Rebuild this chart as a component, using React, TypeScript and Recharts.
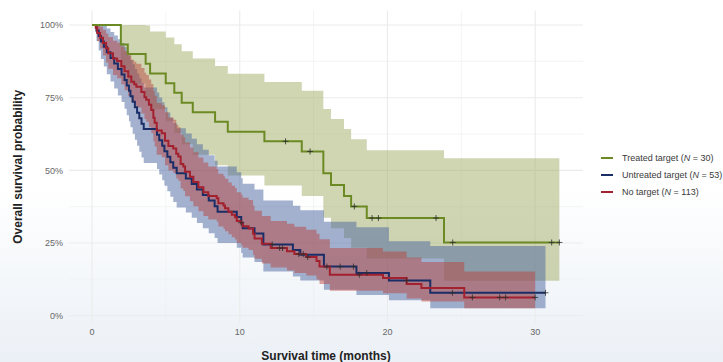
import React from "react";
import { ComposedChart, Area, Line, Scatter, XAxis, YAxis, CartesianGrid, Legend } from "recharts";

// Treated target (N = 30)
const treatedTime = [0, 1.95, 2.42, 3.63, 3.93, 4.99, 5.57, 6.07, 6.82, 8.33, 9.19, 11.67, 14.2, 15.66, 16.18, 17.06, 17.54, 18.6, 23.83, 31.64];
const treatedSurv = [100, 93.3, 90.0, 86.7, 83.3, 80.0, 76.7, 73.3, 70.0, 66.7, 63.3, 60.0, 56.5, 49.0, 45.0, 41.2, 37.6, 33.6, 25.2, 25.2];
const treatedLow = [100, 84.8, 79.9, 75.3, 71.0, 66.9, 62.9, 59.0, 55.4, 51.8, 48.2, 44.8, 41.2, 33.7, 30.1, 26.7, 23.4, 19.7, 12.0, 12.0];
const treatedHigh = [100, 100, 100, 99.8, 97.8, 95.7, 93.4, 91.0, 88.5, 85.9, 83.2, 80.4, 77.4, 71.1, 67.7, 64.2, 60.7, 56.9, 54.2, 54.2];
const treatedCensorTime = [13.1, 14.76, 17.76, 18.96, 19.39, 23.29, 24.42, 31.12, 31.64];
const treatedCensorSurv = [60.0, 56.5, 37.6, 33.6, 33.6, 33.6, 25.2, 25.2, 25.2];

// Untreated target (N = 53)
const untreatedTime = [0, 0.3, 0.45, 0.6, 0.8, 1.0, 1.25, 1.5, 1.75, 2.0, 2.2, 2.35, 2.5, 2.6, 2.75, 2.9, 3.05, 3.2, 3.35, 3.5, 4.4, 4.55, 4.75, 4.9, 5.1, 5.3, 5.5, 5.73, 6.35, 6.75, 7.1, 7.5, 7.9, 8.3, 8.5, 9.8, 10.1, 10.2, 11.0, 11.6, 13.6, 14.1, 15.7, 17.9, 20.1, 22.9, 30.7];
const untreatedSurv = [100, 98.1, 96.2, 94.3, 92.5, 90.6, 88.7, 86.8, 84.9, 83.0, 81.1, 79.2, 77.4, 75.5, 73.6, 71.7, 69.8, 67.9, 66.0, 64.2, 62.3, 60.4, 58.5, 56.6, 54.7, 52.8, 50.9, 49.0, 47.2, 45.3, 43.4, 41.5, 39.6, 37.7, 35.8, 34.0, 32.0, 30.1, 28.3, 24.5, 22.6, 21.0, 16.9, 14.7, 12.1, 7.9, 7.9];
const untreatedLow = [100, 94.5, 91.2, 88.3, 85.7, 83.1, 80.6, 78.2, 75.8, 73.5, 71.2, 69.0, 66.9, 64.8, 62.6, 60.5, 58.5, 56.4, 54.4, 52.5, 50.5, 48.6, 46.6, 44.7, 42.8, 40.9, 39.1, 37.2, 35.5, 33.7, 31.9, 30.1, 28.4, 26.7, 25.0, 23.4, 21.6, 20.0, 18.5, 15.2, 13.5, 12.1, 8.9, 7.1, 5.3, 2.6, 2.6];
const untreatedHigh = [100, 100, 100, 100, 99.9, 98.8, 97.6, 96.4, 95.1, 93.8, 92.4, 91.0, 89.5, 88.0, 86.5, 84.9, 83.3, 81.7, 80.1, 78.5, 76.8, 75.1, 73.4, 71.7, 69.9, 68.1, 66.3, 64.5, 62.7, 60.9, 59.0, 57.1, 55.2, 53.3, 51.3, 49.4, 47.3, 45.4, 43.4, 39.6, 37.8, 36.3, 32.3, 30.4, 25.6, 24.0, 24.0];
const untreatedCensorTime = [10.1, 12.2, 15.9, 16.8, 17.7, 18.6, 21.3, 24.4, 30.7];
const untreatedCensorSurv = [32.0, 24.5, 16.9, 16.9, 16.9, 14.7, 12.1, 7.9, 7.9];

// No target (N = 113)
const noTargetTime = [0, 0.25, 0.35, 0.55, 0.74, 0.95, 1.1, 1.42, 1.7, 1.98, 2.2, 2.45, 2.66, 2.85, 3.0, 3.34, 3.55, 3.67, 3.85, 4.01, 4.15, 4.24, 4.38, 4.72, 4.94, 5.17, 5.5, 5.7, 5.84, 6.0, 6.18, 6.3, 6.63, 6.86, 7.2, 7.54, 7.87, 8.44, 8.55, 8.9, 9.0, 9.23, 9.46, 9.68, 9.8, 10.1, 10.2, 10.6, 10.9, 11.0, 11.5, 12.1, 13.2, 13.7, 14.5, 15.2, 15.4, 16.1, 19.7, 21.3, 22.3, 25.2, 30.0];
const noTargetSurv = [100, 99.1, 97.3, 95.6, 93.8, 92.0, 90.3, 88.5, 87.6, 85.8, 84.1, 82.3, 80.5, 79.6, 78.8, 77.0, 75.2, 74.3, 72.6, 70.8, 68.1, 66.4, 63.7, 62.8, 60.2, 58.4, 57.5, 55.7, 54.8, 52.2, 51.3, 49.5, 47.8, 46.0, 44.2, 42.5, 41.2, 40.4, 38.7, 37.9, 37.0, 35.8, 34.7, 33.9, 32.6, 31.7, 30.8, 30.0, 28.2, 26.6, 24.8, 23.3, 22.2, 21.2, 20.2, 18.8, 16.9, 14.1, 13.0, 10.9, 9.5, 6.3, 6.3];
const noTargetLow = [100, 97.4, 94.4, 91.9, 89.5, 87.1, 85.0, 82.8, 81.7, 79.6, 77.6, 75.6, 73.5, 72.5, 71.6, 69.6, 67.7, 66.7, 64.8, 62.9, 60.0, 58.2, 55.4, 54.5, 51.8, 50.0, 49.1, 47.2, 46.4, 43.8, 42.9, 41.1, 39.4, 37.7, 35.9, 34.3, 33.1, 32.3, 30.7, 29.9, 29.1, 28.0, 27.0, 26.2, 25.0, 24.2, 23.4, 22.6, 21.0, 19.6, 18.0, 16.6, 15.6, 14.7, 13.8, 12.5, 10.9, 8.6, 7.7, 5.9, 4.9, 2.6, 2.6];
const noTargetHigh = [100, 100, 100, 99.4, 98.4, 97.1, 95.9, 94.6, 93.9, 92.5, 91.1, 89.6, 88.1, 87.4, 86.7, 85.2, 83.6, 82.8, 81.3, 79.7, 77.3, 75.7, 73.2, 72.4, 70.0, 68.2, 67.4, 65.7, 64.8, 62.3, 61.4, 59.6, 57.9, 56.2, 54.4, 52.7, 51.3, 50.5, 48.8, 48.0, 47.1, 45.8, 44.7, 43.9, 42.5, 41.6, 40.6, 39.8, 37.8, 36.1, 34.3, 32.6, 31.6, 30.6, 29.6, 28.2, 26.3, 23.3, 22.1, 20.0, 18.5, 15.2, 15.2];
const noTargetCensorTime = [12.7, 12.9, 14.0, 14.3, 14.6, 18.1, 25.75, 27.6, 28.0, 30.0];
const noTargetCensorSurv = [23.3, 23.3, 21.2, 21.2, 20.2, 14.1, 6.3, 6.3, 6.3, 6.3];

const groupNames = ["Treated target", "Untreated target", "No target"];
const groupN = [30, 53, 113];
const lineColors = ["#6b8a23", "#1b2d66", "#a3202e"];
const bandColors = ["#a2ab66", "#4a66a0", "#b8413a"];
const bandOpacity = [0.5, 0.5, 0.48];

const xTicks = [0, 10, 20, 30];
const yTicks = [0, 25, 50, 75, 100];
const xMinor = [5, 15, 25];
const yMinor = [12.5, 37.5, 62.5, 87.5];

const FONT = '"Liberation Sans", Arial, sans-serif';

const toSteps = (t: number[], s: number[], lo: number[], hi: number[]) =>
  t.map((x, i) => ({ t: x, s: s[i], lo: lo[i], hi: hi[i] }));
const toMarks = (t: number[], s: number[]) => t.map((x, i) => ({ t: x, s: s[i] }));

const curves = [
  toSteps(treatedTime, treatedSurv, treatedLow, treatedHigh),
  toSteps(untreatedTime, untreatedSurv, untreatedLow, untreatedHigh),
  toSteps(noTargetTime, noTargetSurv, noTargetLow, noTargetHigh),
];
const censors = [
  toMarks(treatedCensorTime, treatedCensorSurv),
  toMarks(untreatedCensorTime, untreatedCensorSurv),
  toMarks(noTargetCensorTime, noTargetCensorSurv),
];

const CensorMark = (props: any) => {
  const { cx, cy } = props;
  if (cx == null || cy == null) return null;
  return (
    <path
      d={`M${cx - 3},${cy}H${cx + 3}M${cx},${cy - 3}V${cy + 3}`}
      stroke="#2d2d2d"
      strokeOpacity={0.8}
      strokeWidth={1}
      fill="none"
    />
  );
};

const XTitle = (props: any) => {
  const vb = props.viewBox || { x: 69, width: 514 };
  return (
    <text x={vb.x + vb.width / 2} y={360} textAnchor="middle" fontFamily={FONT} fontSize={12} fontWeight={700} fill="#222">
      Survival time (months)
    </text>
  );
};

const YTitle = (props: any) => {
  const vb = props.viewBox || { y: 10.5, height: 312.5 };
  const cy = vb.y + vb.height / 2;
  return (
    <text
      x={18}
      y={cy}
      dy="0.35em"
      transform={`rotate(-90, 18, ${cy})`}
      textAnchor="middle"
      fontFamily={FONT}
      fontSize={12}
      fontWeight={700}
      fill="#222"
    >
      Overall survival probability
    </text>
  );
};

const renderLegend = () => (
  <div style={{ fontFamily: FONT, fontSize: 9, color: "#3a3a3a" }}>
    {groupNames.map((name, i) => (
      <div key={name} style={{ display: "flex", alignItems: "center", height: 17, whiteSpace: "nowrap" }}>
        <span style={{ display: "inline-block", width: 12, height: 2, background: lineColors[i], marginRight: 9 }} />
        <span>
          {name} (<i>N</i> = {groupN[i]})
        </span>
      </div>
    ))}
  </div>
);

export default function App() {
  return (
    <div
      style={{
        position: "absolute",
        left: 0,
        top: 0,
        width: 723,
        height: 362,
        overflow: "hidden",
        fontFamily: FONT,
        background: "linear-gradient(180deg, #ffffff 0%, #ffffff 52%, #f4f7fa 78%, #ebf0f6 100%)",
      }}
    >
      <ComposedChart width={723} height={362} margin={{ top: 10.5, right: 140, bottom: 0, left: 0 }}>
        <CartesianGrid horizontalValues={yMinor} verticalValues={xMinor} stroke="#eeeeee" strokeWidth={0.6} />
        <CartesianGrid horizontalValues={yTicks} verticalValues={xTicks} stroke="#ebebeb" strokeWidth={1.1} />
        <XAxis
          type="number"
          dataKey="t"
          domain={[-1.56, 33.24]}
          allowDataOverflow
          ticks={xTicks}
          axisLine={false}
          tickLine={false}
          tickSize={0}
          tickMargin={6}
          height={39}
          tick={{ fill: "#666", fontSize: 9, fontFamily: FONT }}
          label={<XTitle />}
        />
        <YAxis
          type="number"
          domain={[-2.5, 105]}
          allowDataOverflow
          ticks={yTicks}
          tickFormatter={(v: number) => `${v}%`}
          axisLine={false}
          tickLine={false}
          tickSize={0}
          tickMargin={6}
          width={69}
          tick={{ fill: "#666", fontSize: 9, fontFamily: FONT }}
          label={<YTitle />}
        />
        {curves.map((data, i) => (
          <Area
            key={`band-${i}`}
            data={data}
            dataKey={(d: any) => [d.lo, d.hi]}
            type="stepAfter"
            stroke="none"
            fill={bandColors[i]}
            fillOpacity={bandOpacity[i]}
            isAnimationActive={false}
            activeDot={false}
            legendType="none"
          />
        ))}
        {[1, 2, 0].map((i) => (
          <Line
            key={`line-${i}`}
            data={curves[i]}
            dataKey="s"
            type="stepAfter"
            stroke={lineColors[i]}
            strokeWidth={2}
            dot={false}
            activeDot={false}
            isAnimationActive={false}
            legendType="none"
          />
        ))}
        {censors.map((data, i) => (
          <Scatter
            key={`cens-${i}`}
            data={data}
            dataKey="s"
            shape={<CensorMark />}
            isAnimationActive={false}
            legendType="none"
          />
        ))}
        <Legend
          verticalAlign="middle"
          align="center"
          layout="horizontal"
          content={renderLegend}
          wrapperStyle={{ left: 601, top: 149, width: 122 }}
        />
      </ComposedChart>
    </div>
  );
}
